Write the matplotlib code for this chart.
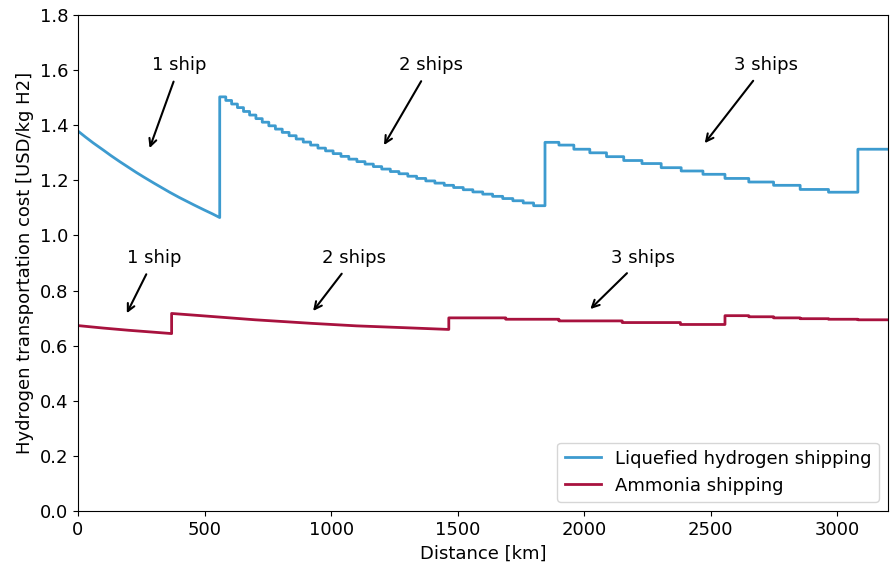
import numpy as np
import matplotlib.pyplot as plt

# Liquefied hydrogen: smooth part (1 ship), then stepped costs (2 and 3 ships)
lh2_x = [0, 30, 60, 100, 130, 165, 200, 230, 260, 300, 330, 362, 400, 430, 460, 500, 530, 560]
lh2_y = [1.379, 1.357, 1.336, 1.310, 1.290, 1.268, 1.247, 1.229, 1.212, 1.190, 1.174, 1.157,
         1.138, 1.124, 1.110, 1.092, 1.079, 1.065]
lh2_edges = [560, 584, 607, 630, 654, 678, 703, 728, 754, 780, 807, 834, 862, 890, 919, 948,
             978, 1008, 1039, 1070, 1102, 1134, 1167, 1200, 1234, 1268, 1303, 1338, 1374, 1410,
             1447, 1484, 1522, 1560, 1599, 1638, 1678, 1718, 1759, 1800,
             1845, 1900, 1959, 2022, 2088, 2156, 2228, 2304, 2383, 2469, 2556, 2650, 2748, 2853,
             2965, 3081]
lh2_levels = [1.503, 1.490, 1.477, 1.464, 1.450, 1.437, 1.424, 1.411, 1.398, 1.386, 1.374, 1.362,
              1.350, 1.339, 1.328, 1.317, 1.307, 1.297, 1.287, 1.277, 1.268, 1.259, 1.250, 1.241,
              1.232, 1.224, 1.215, 1.207, 1.198, 1.190, 1.182, 1.174, 1.166, 1.158, 1.150, 1.142,
              1.134, 1.126, 1.118, 1.108,
              1.338, 1.328, 1.313, 1.300, 1.286, 1.272, 1.261, 1.246, 1.234, 1.222, 1.207, 1.194,
              1.182, 1.167, 1.157, 1.313]

# Ammonia: smooth parts (1 and 2 ships), then steps
nh3_x = [0, 100, 200, 300, 370, 370, 500, 700, 925, 1100, 1300, 1465]
nh3_y = [0.673, 0.664, 0.656, 0.649, 0.644, 0.717, 0.708, 0.694, 0.681, 0.672, 0.665, 0.659]
nh3_edges = [1465, 1690, 1900, 2150, 2380, 2556, 2650, 2748, 2853, 2965, 3081]
nh3_levels = [0.701, 0.696, 0.690, 0.684, 0.677, 0.709, 0.705, 0.701, 0.698, 0.696, 0.694]

x_end = 3200

labels = ["1 ship", "2 ships", "3 ships"]
lh2_text_x = [402, 1394, 2717]
lh2_tip = [(283, 1.317), (1209, 1.328), (2476, 1.335)]
nh3_text_x = [303, 1091, 2232]
nh3_tip = [(193, 0.718), (929, 0.726), (2024, 0.733)]


def stairs(edges, levels, end):
    xs = np.repeat(list(edges) + [end], 2)[1:-1]
    ys = np.repeat(levels, 2)
    return xs, ys


plt.rcParams.update({"font.family": "DejaVu Sans", "font.size": 13})
fig = plt.figure(figsize=(8.93, 5.71), dpi=100)
ax = fig.add_axes([0.0873, 0.105, 0.9071, 0.8687])

sx, sy = stairs(lh2_edges, lh2_levels, x_end)
ax.plot(np.concatenate([lh2_x, sx]), np.concatenate([lh2_y, sy]),
        color="#3d9bcf", lw=2, label="Liquefied hydrogen shipping")
sx, sy = stairs(nh3_edges, nh3_levels, x_end)
ax.plot(np.concatenate([nh3_x, sx]), np.concatenate([nh3_y, sy]),
        color="#a8123e", lw=2, label="Ammonia shipping")

arrow = dict(arrowstyle="->", color="black", lw=1.5, shrinkA=4, shrinkB=0)
for lab, tx, tip in zip(labels, lh2_text_x, lh2_tip):
    ax.annotate(lab, xy=tip, xytext=(tx, 1.62), ha="center", va="center", arrowprops=arrow)
for lab, tx, tip in zip(labels, nh3_text_x, nh3_tip):
    ax.annotate(lab, xy=tip, xytext=(tx, 0.92), ha="center", va="center", arrowprops=arrow)

ax.set_xlim(0, x_end)
ax.set_ylim(0, 1.8)
ax.set_xlabel("Distance [km]")
ax.set_ylabel("Hydrogen transportation cost [USD/kg H2]")
ax.legend(loc="lower right")

fig.savefig("out.png", dpi=100)
